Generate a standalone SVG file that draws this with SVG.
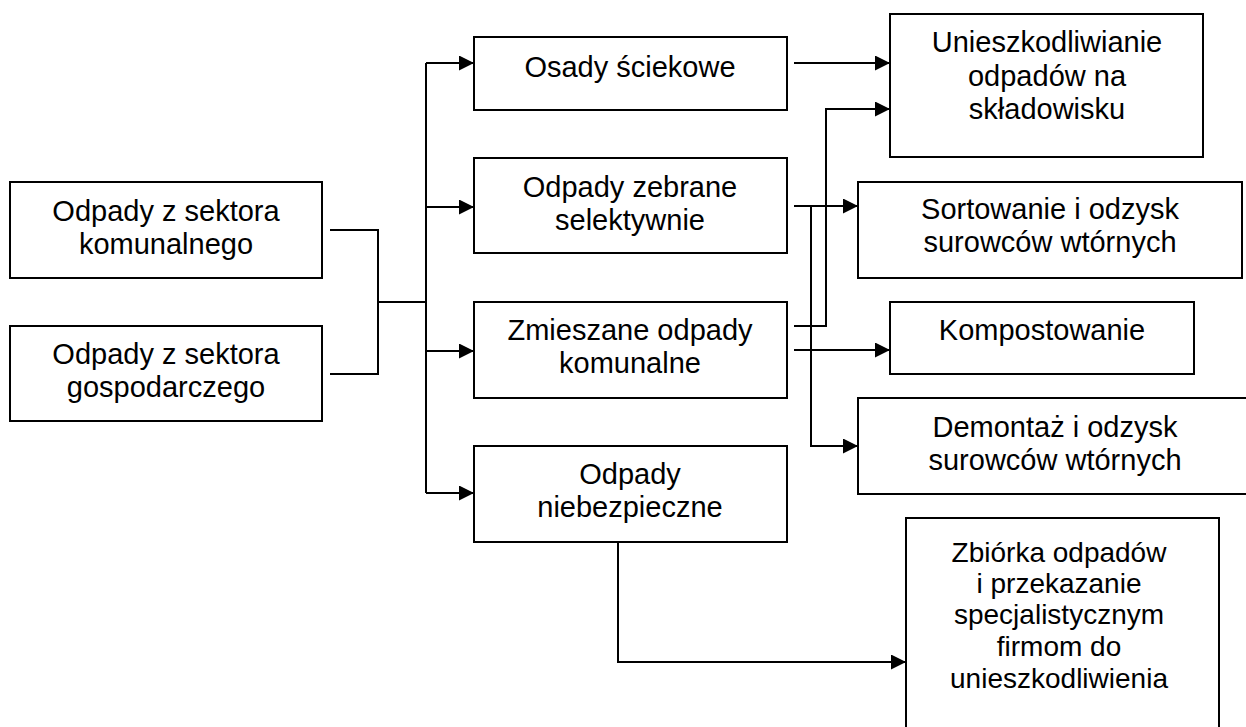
<svg xmlns="http://www.w3.org/2000/svg" width="1246" height="727" viewBox="0 0 1246 727">
<style>
.box{fill:#fff;stroke:#000;stroke-width:2}
text{font-family:"Liberation Sans",Arial,sans-serif;font-size:29px;fill:#000;text-anchor:middle}
.c{fill:none;stroke:#000;stroke-width:2}
</style>
<defs>
<marker id="ah" markerWidth="16" markerHeight="16" refX="15" refY="7.5" orient="auto" markerUnits="userSpaceOnUse">
<path d="M0,0 L15,7.5 L0,15 Z" fill="#000"/>
</marker>
</defs>
<rect width="1246" height="727" fill="#fff"/>
<g id="n-komunalny"><rect class="box" x="10" y="182" width="312" height="96"/><text x="166" y="221">Odpady z sektora</text><text x="166" y="254">komunalnego</text></g>
<g id="n-gospodarczy"><rect class="box" x="10" y="326" width="312" height="95"/><text x="166" y="364">Odpady z sektora</text><text x="166" y="397">gospodarczego</text></g>
<g id="n-osady"><rect class="box" x="474" y="37" width="313" height="73"/><text x="630" y="77">Osady ściekowe</text></g>
<g id="n-selektywne"><rect class="box" x="474" y="158" width="313" height="95"/><text x="630" y="197">Odpady zebrane</text><text x="630" y="230">selektywnie</text></g>
<g id="n-zmieszane"><rect class="box" x="474" y="302" width="313" height="96"/><text x="630" y="340">Zmieszane odpady</text><text x="630" y="373">komunalne</text></g>
<g id="n-niebezpieczne"><rect class="box" x="474" y="446" width="313" height="96"/><text x="630" y="484">Odpady</text><text x="630" y="517">niebezpieczne</text></g>
<g id="n-skladowisko"><rect class="box" x="890" y="14" width="313" height="143"/><text x="1047" y="52">Unieszkodliwianie</text><text x="1047" y="86">odpadów na</text><text x="1047" y="119">składowisku</text></g>
<g id="n-sortowanie"><rect class="box" x="858" y="182" width="384" height="96"/><text x="1050" y="219">Sortowanie i odzysk</text><text x="1050" y="252">surowców wtórnych</text></g>
<g id="n-kompostowanie"><rect class="box" x="890" y="302" width="304" height="72"/><text x="1042" y="340">Kompostowanie</text></g>
<g id="n-demontaz"><rect class="box" x="858" y="398" width="394" height="96"/><text x="1055" y="437">Demontaż i odzysk</text><text x="1055" y="470">surowców wtórnych</text></g>
<g id="n-zbiorka"><rect class="box" x="906" y="518" width="313" height="230"/><text x="1059" y="562" style="font-size:28px">Zbiórka odpadów</text><text x="1059" y="593" style="font-size:28px">i przekazanie</text><text x="1059" y="624" style="font-size:28px">specjalistycznym</text><text x="1059" y="656" style="font-size:28px">firmom do</text><text x="1059" y="688" style="font-size:28px">unieszkodliwienia</text></g>
<g id="connectors">
<path class="c" d="M330,230 H378 V374 H330"/>
<path class="c" d="M378,302 H426"/>
<path class="c" d="M426,63 V493"/>
<path class="c" d="M426,63 H474" marker-end="url(#ah)"/>
<path class="c" d="M426,207 H474" marker-end="url(#ah)"/>
<path class="c" d="M426,351 H474" marker-end="url(#ah)"/>
<path class="c" d="M426,493 H474" marker-end="url(#ah)"/>
<path class="c" d="M794,63 H890" marker-end="url(#ah)"/>
<path class="c" d="M794,206 H858" marker-end="url(#ah)"/>
<path class="c" d="M811,206 V446 H858" marker-end="url(#ah)"/>
<path class="c" d="M794,326 H826 V109 H890" marker-end="url(#ah)"/>
<path class="c" d="M794,350 H890" marker-end="url(#ah)"/>
<path class="c" d="M618,542 V662 H906" marker-end="url(#ah)"/>
</g>
</svg>
